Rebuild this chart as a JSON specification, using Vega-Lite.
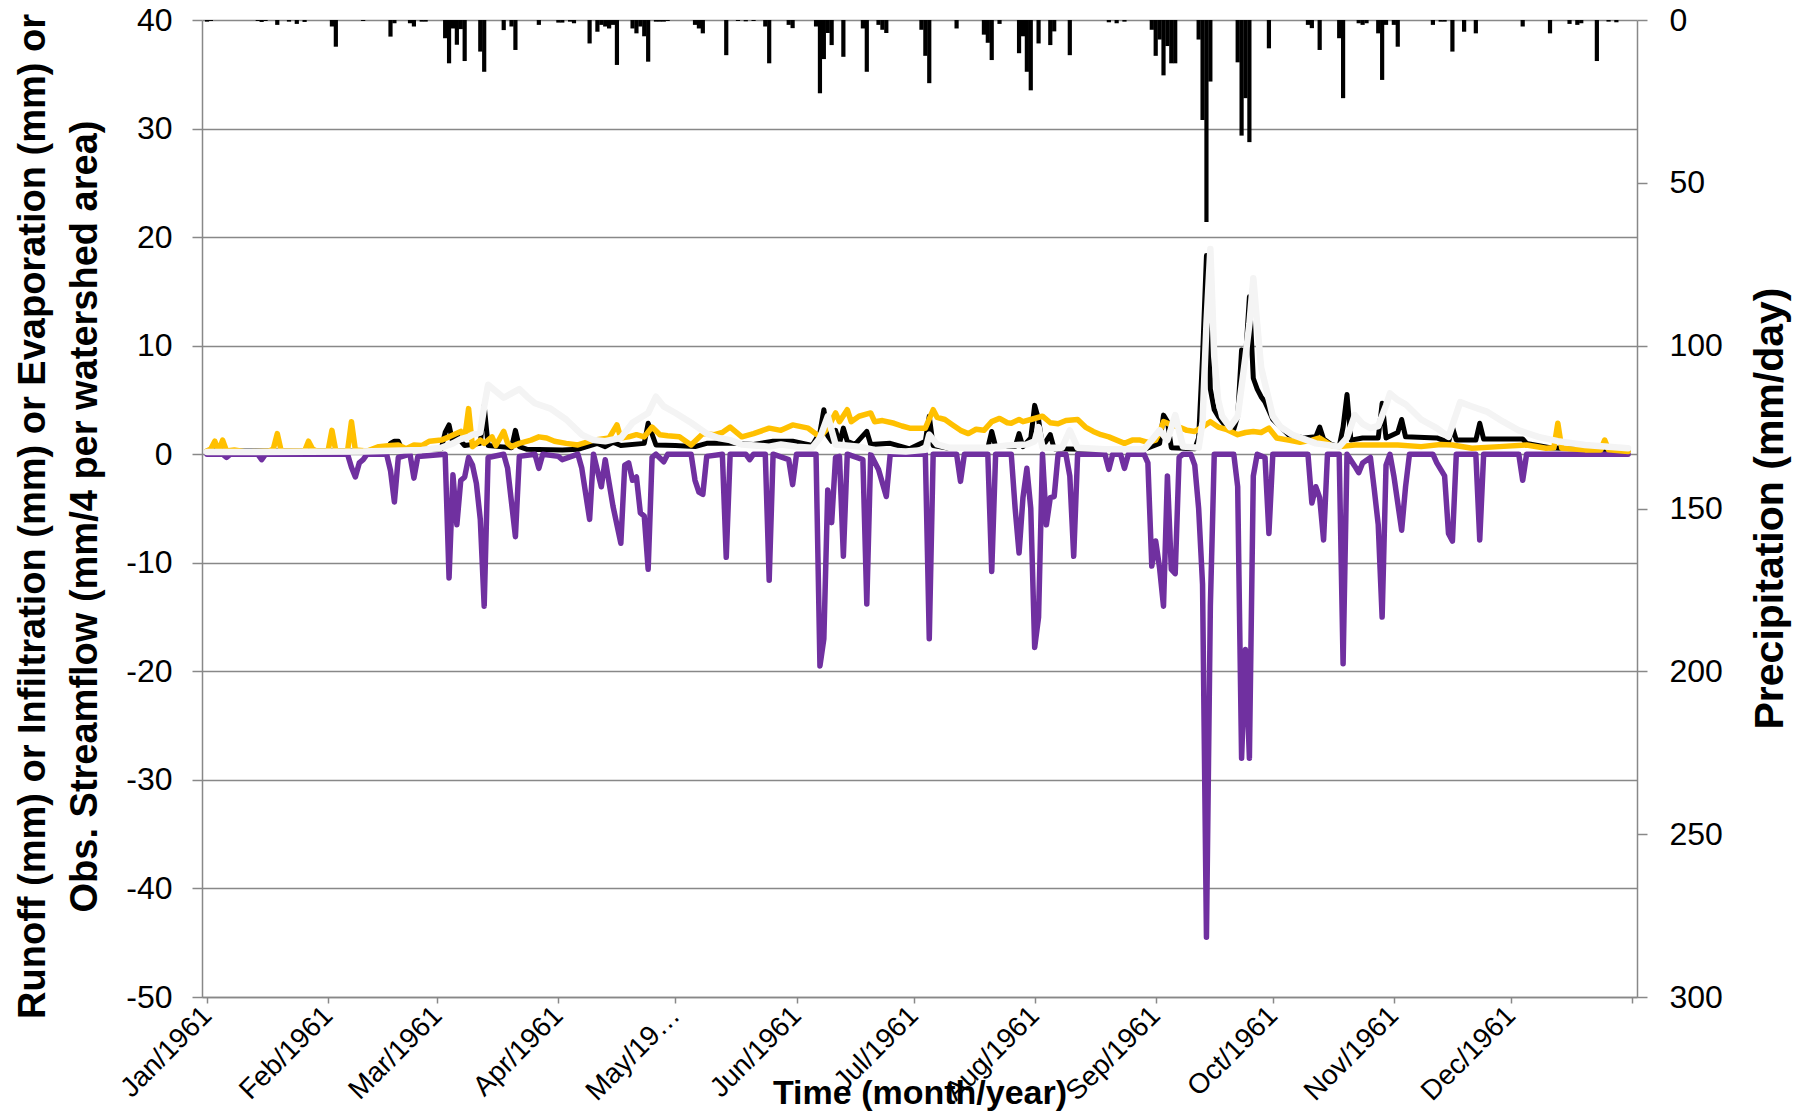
{
"$schema": "https://vega.github.io/schema/vega-lite/v6.json",
"width": 1435, "height": 977,
"autosize": {"type": "none"},
"padding": {"left": 202, "top": 20, "right": 171, "bottom": 116},
"background": "white",
"config": {"view": {"stroke": null}, "axis": {"labelFont": "Liberation Sans", "titleFont": "Liberation Sans", "labelColor": "black", "titleColor": "black"}},
"datasets": {
"precip": [
{"date":"1961/01/01","mm":0.5},{"date":"1961/01/02","mm":0.3},{"date":"1961/01/14","mm":0.3},{"date":"1961/01/15","mm":0.6},{"date":"1961/01/16","mm":0.3},{"date":"1961/01/19","mm":1.5},{"date":"1961/01/22","mm":0.5},{"date":"1961/01/24","mm":1.2},{"date":"1961/01/26","mm":0.6},
{"date":"1961/02/02","mm":2},{"date":"1961/02/03","mm":8.2},{"date":"1961/02/10","mm":0.3},{"date":"1961/02/17","mm":5.1},{"date":"1961/02/18","mm":1},{"date":"1961/02/22","mm":1.0},{"date":"1961/02/23","mm":2.0},{"date":"1961/02/25","mm":0.5},{"date":"1961/02/26","mm":0.5},
{"date":"1961/03/03","mm":5.6},{"date":"1961/03/04","mm":13.3},{"date":"1961/03/05","mm":2.6},{"date":"1961/03/06","mm":7.6},{"date":"1961/03/07","mm":2.8},{"date":"1961/03/08","mm":12.6},{"date":"1961/03/12","mm":9.7},{"date":"1961/03/13","mm":15.9},{"date":"1961/03/18","mm":3.1},{"date":"1961/03/20","mm":2},{"date":"1961/03/21","mm":9.2},{"date":"1961/03/27","mm":1.5},
{"date":"1961/04/01","mm":0.8},{"date":"1961/04/02","mm":0.8},{"date":"1961/04/04","mm":0.5},{"date":"1961/04/05","mm":1.0},{"date":"1961/04/09","mm":7.2},{"date":"1961/04/11","mm":3.6},{"date":"1961/04/12","mm":1.5},{"date":"1961/04/13","mm":2},{"date":"1961/04/14","mm":2.6},{"date":"1961/04/15","mm":1.5},{"date":"1961/04/16","mm":13.8},{"date":"1961/04/20","mm":2.6},{"date":"1961/04/21","mm":4.1},{"date":"1961/04/22","mm":2},{"date":"1961/04/23","mm":5},{"date":"1961/04/24","mm":12.8},{"date":"1961/04/26","mm":0.5},{"date":"1961/04/27","mm":0.5},{"date":"1961/04/28","mm":0.5},{"date":"1961/04/29","mm":0.3},
{"date":"1961/05/06","mm":1.5},{"date":"1961/05/07","mm":2.6},{"date":"1961/05/08","mm":4.1},{"date":"1961/05/14","mm":10.8},{"date":"1961/05/17","mm":0.3},{"date":"1961/05/19","mm":0.4},{"date":"1961/05/21","mm":0.3},{"date":"1961/05/24","mm":2},{"date":"1961/05/25","mm":13.3},{"date":"1961/05/30","mm":1.5},{"date":"1961/05/31","mm":2.5},
{"date":"1961/06/06","mm":2},{"date":"1961/06/07","mm":22.5},{"date":"1961/06/08","mm":12},{"date":"1961/06/09","mm":4},{"date":"1961/06/10","mm":7.7},{"date":"1961/06/13","mm":11.3},{"date":"1961/06/18","mm":2.6},{"date":"1961/06/19","mm":15.9},{"date":"1961/06/22","mm":1.5},{"date":"1961/06/23","mm":3},{"date":"1961/06/24","mm":4},
{"date":"1961/07/03","mm":3},{"date":"1961/07/04","mm":11},{"date":"1961/07/05","mm":19.4},{"date":"1961/07/12","mm":2.6},{"date":"1961/07/19","mm":4.5},{"date":"1961/07/20","mm":7},{"date":"1961/07/21","mm":12.3},{"date":"1961/07/23","mm":1.2},{"date":"1961/07/28","mm":10.2},{"date":"1961/07/29","mm":5},{"date":"1961/07/30","mm":15.9},{"date":"1961/07/31","mm":21.6},
{"date":"1961/08/02","mm":7.2},{"date":"1961/08/05","mm":7.7},{"date":"1961/08/06","mm":3.5},{"date":"1961/08/10","mm":10.8},{"date":"1961/08/20","mm":0.7},{"date":"1961/08/22","mm":1.0},{"date":"1961/08/24","mm":0.5},{"date":"1961/08/31","mm":3},
{"date":"1961/09/01","mm":11},{"date":"1961/09/02","mm":6},{"date":"1961/09/03","mm":17},{"date":"1961/09/04","mm":8},{"date":"1961/09/05","mm":13.3},{"date":"1961/09/06","mm":13.3},{"date":"1961/09/12","mm":6},{"date":"1961/09/13","mm":30.7},{"date":"1961/09/14","mm":62},{"date":"1961/09/15","mm":18.9},{"date":"1961/09/22","mm":13},{"date":"1961/09/23","mm":35.5},{"date":"1961/09/24","mm":24},{"date":"1961/09/25","mm":37.5},{"date":"1961/09/30","mm":8.7},
{"date":"1961/10/10","mm":1.5},{"date":"1961/10/11","mm":2.5},{"date":"1961/10/13","mm":9.2},{"date":"1961/10/18","mm":5.6},{"date":"1961/10/19","mm":24},{"date":"1961/10/23","mm":1.0},{"date":"1961/10/24","mm":1.5},{"date":"1961/10/25","mm":1.0},{"date":"1961/10/28","mm":4.1},{"date":"1961/10/29","mm":18.4},{"date":"1961/10/30","mm":1.5},
{"date":"1961/11/01","mm":1.5},{"date":"1961/11/02","mm":8.2},{"date":"1961/11/11","mm":1.5},{"date":"1961/11/13","mm":0.5},{"date":"1961/11/14","mm":0.5},{"date":"1961/11/16","mm":9.7},{"date":"1961/11/19","mm":3.6},{"date":"1961/11/22","mm":4.1},
{"date":"1961/12/04","mm":2.0},{"date":"1961/12/11","mm":4.1},{"date":"1961/12/16","mm":1.2},{"date":"1961/12/18","mm":1.5},{"date":"1961/12/19","mm":1.0},{"date":"1961/12/23","mm":12.6},{"date":"1961/12/26","mm":0.5},{"date":"1961/12/28","mm":0.7}
],
"runoff": [
{"date":"1961/01/01","mm":0.3},{"date":"1961/02/06","mm":0.3},{"date":"1961/02/16","mm":0.3},{"date":"1961/02/17","mm":1.0},{"date":"1961/02/18","mm":1.2},{"date":"1961/02/19","mm":1.2},{"date":"1961/02/20","mm":0.4},
{"date":"1961/03/02","mm":0.5},{"date":"1961/03/03","mm":2.0},{"date":"1961/03/04","mm":2.7},{"date":"1961/03/05","mm":1.0},{"date":"1961/03/06","mm":1.9},{"date":"1961/03/07","mm":1.2},{"date":"1961/03/08","mm":0.8},{"date":"1961/03/12","mm":1.0},{"date":"1961/03/13","mm":4.5},{"date":"1961/03/14","mm":0.8},{"date":"1961/03/17","mm":0.7},{"date":"1961/03/20","mm":0.6},{"date":"1961/03/21","mm":2.2},{"date":"1961/03/22","mm":0.7},{"date":"1961/03/24","mm":0.45},
{"date":"1961/04/02","mm":0.4},{"date":"1961/04/06","mm":0.45},{"date":"1961/04/11","mm":1.0},{"date":"1961/04/13","mm":0.7},{"date":"1961/04/15","mm":1.1},{"date":"1961/04/17","mm":0.8},{"date":"1961/04/23","mm":1.0},{"date":"1961/04/24","mm":2.85},{"date":"1961/04/26","mm":0.85},
{"date":"1961/05/01","mm":0.8},{"date":"1961/05/06","mm":0.7},{"date":"1961/05/09","mm":1.0},{"date":"1961/05/16","mm":1.0},{"date":"1961/05/21","mm":0.9},{"date":"1961/05/26","mm":1.2},{"date":"1961/05/31","mm":1.2},
{"date":"1961/06/05","mm":0.8},{"date":"1961/06/07","mm":2.0},{"date":"1961/06/08","mm":4.1},{"date":"1961/06/09","mm":1.7},{"date":"1961/06/10","mm":1.2},{"date":"1961/06/11","mm":2.2},{"date":"1961/06/12","mm":1.0},{"date":"1961/06/13","mm":2.4},{"date":"1961/06/14","mm":1.2},{"date":"1961/06/16","mm":0.9},{"date":"1961/06/19","mm":2.1},{"date":"1961/06/20","mm":0.9},{"date":"1961/06/25","mm":1.0},{"date":"1961/06/30","mm":0.5},
{"date":"1961/07/04","mm":1.2},{"date":"1961/07/05","mm":3.5},{"date":"1961/07/06","mm":0.8},{"date":"1961/07/10","mm":0.55},{"date":"1961/07/20","mm":0.6},{"date":"1961/07/21","mm":2.1},{"date":"1961/07/22","mm":0.7},{"date":"1961/07/27","mm":0.7},{"date":"1961/07/28","mm":1.9},{"date":"1961/07/29","mm":0.7},{"date":"1961/07/31","mm":1.5},
{"date":"1961/08/01","mm":4.5},{"date":"1961/08/02","mm":3.2},{"date":"1961/08/03","mm":0.7},{"date":"1961/08/05","mm":1.8},{"date":"1961/08/06","mm":0.5},{"date":"1961/08/14","mm":0.45},{"date":"1961/08/29","mm":0.45},
{"date":"1961/09/02","mm":1.0},{"date":"1961/09/03","mm":3.6},{"date":"1961/09/04","mm":3.0},{"date":"1961/09/05","mm":0.6},{"date":"1961/09/11","mm":0.5},{"date":"1961/09/12","mm":1.5},{"date":"1961/09/13","mm":9},{"date":"1961/09/14","mm":18.3},{"date":"1961/09/15","mm":6},{"date":"1961/09/16","mm":4.1},{"date":"1961/09/17","mm":3.5},{"date":"1961/09/18","mm":3.0},{"date":"1961/09/19","mm":2.6},{"date":"1961/09/21","mm":2.3},{"date":"1961/09/22","mm":3.5},{"date":"1961/09/23","mm":9.6},{"date":"1961/09/24","mm":8.8},{"date":"1961/09/25","mm":14.5},{"date":"1961/09/26","mm":7.0},{"date":"1961/09/27","mm":6.0},{"date":"1961/09/28","mm":5.3},{"date":"1961/09/29","mm":4.8},{"date":"1961/09/30","mm":4.0},
{"date":"1961/10/01","mm":3.2},{"date":"1961/10/03","mm":2.5},{"date":"1961/10/05","mm":1.8},{"date":"1961/10/09","mm":1.5},{"date":"1961/10/12","mm":1.6},{"date":"1961/10/13","mm":2.5},{"date":"1961/10/14","mm":1.4},{"date":"1961/10/16","mm":0.9},{"date":"1961/10/18","mm":0.7},{"date":"1961/10/19","mm":2.5},{"date":"1961/10/20","mm":5.5},{"date":"1961/10/21","mm":1.3},{"date":"1961/10/24","mm":1.5},{"date":"1961/10/28","mm":1.5},{"date":"1961/10/29","mm":4.7},{"date":"1961/10/30","mm":1.5},
{"date":"1961/11/02","mm":2.0},{"date":"1961/11/03","mm":3.2},{"date":"1961/11/04","mm":1.6},{"date":"1961/11/12","mm":1.5},{"date":"1961/11/15","mm":1.1},{"date":"1961/11/16","mm":2.5},{"date":"1961/11/17","mm":1.3},{"date":"1961/11/22","mm":1.3},{"date":"1961/11/23","mm":2.85},{"date":"1961/11/24","mm":1.4},
{"date":"1961/12/04","mm":1.4},{"date":"1961/12/05","mm":1.0},{"date":"1961/12/11","mm":0.6},{"date":"1961/12/17","mm":0.5},{"date":"1961/12/31","mm":0.3}
],
"infiltration": [
{"date":"1961/01/01","mm":0},{"date":"1961/01/05","mm":0},{"date":"1961/01/06","mm":-0.3},{"date":"1961/01/07","mm":0},{"date":"1961/01/14","mm":0},{"date":"1961/01/15","mm":-0.5},{"date":"1961/01/16","mm":0},
{"date":"1961/02/06","mm":0},{"date":"1961/02/07","mm":-1.2},{"date":"1961/02/08","mm":-2.1},{"date":"1961/02/09","mm":-0.8},{"date":"1961/02/10","mm":-0.5},{"date":"1961/02/11","mm":0},{"date":"1961/02/16","mm":0},{"date":"1961/02/17","mm":-1.5},{"date":"1961/02/18","mm":-4.4},{"date":"1961/02/19","mm":-0.3},{"date":"1961/02/22","mm":0},{"date":"1961/02/23","mm":-2.2},{"date":"1961/02/24","mm":-0.2},
{"date":"1961/03/03","mm":0},{"date":"1961/03/04","mm":-11.4},{"date":"1961/03/05","mm":-1.9},{"date":"1961/03/06","mm":-6.5},{"date":"1961/03/07","mm":-2.4},{"date":"1961/03/08","mm":-2.1},{"date":"1961/03/09","mm":-0.3},{"date":"1961/03/10","mm":-1},{"date":"1961/03/11","mm":-2.7},{"date":"1961/03/12","mm":-6},{"date":"1961/03/13","mm":-14},{"date":"1961/03/14","mm":-0.3},{"date":"1961/03/18","mm":0},{"date":"1961/03/19","mm":-1.3},{"date":"1961/03/21","mm":-7.6},{"date":"1961/03/22","mm":-0.2},{"date":"1961/03/26","mm":0},{"date":"1961/03/27","mm":-1.3},{"date":"1961/03/28","mm":0},
{"date":"1961/04/01","mm":-0.2},{"date":"1961/04/02","mm":-0.5},{"date":"1961/04/06","mm":0},{"date":"1961/04/07","mm":-1.3},{"date":"1961/04/09","mm":-6},{"date":"1961/04/10","mm":0},{"date":"1961/04/12","mm":-3},{"date":"1961/04/13","mm":-0.5},{"date":"1961/04/15","mm":-4.8},{"date":"1961/04/17","mm":-8.2},{"date":"1961/04/18","mm":-1},{"date":"1961/04/19","mm":-0.8},{"date":"1961/04/20","mm":-2.4},{"date":"1961/04/21","mm":-2.1},{"date":"1961/04/22","mm":-5.4},{"date":"1961/04/23","mm":-5.7},{"date":"1961/04/24","mm":-10.6},{"date":"1961/04/25","mm":-0.3},{"date":"1961/04/26","mm":0},{"date":"1961/04/28","mm":-0.7},{"date":"1961/04/29","mm":0},
{"date":"1961/05/05","mm":0},{"date":"1961/05/06","mm":-2.4},{"date":"1961/05/07","mm":-3.5},{"date":"1961/05/08","mm":-3.7},{"date":"1961/05/09","mm":-0.2},{"date":"1961/05/13","mm":0},{"date":"1961/05/14","mm":-9.5},{"date":"1961/05/15","mm":0},{"date":"1961/05/19","mm":0},{"date":"1961/05/20","mm":-0.5},{"date":"1961/05/21","mm":0},{"date":"1961/05/24","mm":0},{"date":"1961/05/25","mm":-11.6},{"date":"1961/05/26","mm":0},{"date":"1961/05/30","mm":-0.5},{"date":"1961/05/31","mm":-2.8},
{"date":"1961/06/01","mm":0},{"date":"1961/06/06","mm":0},{"date":"1961/06/07","mm":-19.5},{"date":"1961/06/08","mm":-17},{"date":"1961/06/09","mm":-3.3},{"date":"1961/06/10","mm":-6.3},{"date":"1961/06/11","mm":-0.3},{"date":"1961/06/12","mm":-0.2},{"date":"1961/06/13","mm":-9.4},{"date":"1961/06/14","mm":0},{"date":"1961/06/18","mm":-0.5},{"date":"1961/06/19","mm":-13.8},{"date":"1961/06/20","mm":0},{"date":"1961/06/22","mm":-1.4},{"date":"1961/06/24","mm":-3.9},{"date":"1961/06/25","mm":0},
{"date":"1961/07/04","mm":0},{"date":"1961/07/05","mm":-17},{"date":"1961/07/06","mm":0},{"date":"1961/07/12","mm":0},{"date":"1961/07/13","mm":-2.5},{"date":"1961/07/14","mm":0},{"date":"1961/07/20","mm":0},{"date":"1961/07/21","mm":-10.8},{"date":"1961/07/22","mm":0},{"date":"1961/07/26","mm":0},{"date":"1961/07/27","mm":-5},{"date":"1961/07/28","mm":-9.1},{"date":"1961/07/29","mm":-4},{"date":"1961/07/30","mm":-1.3},{"date":"1961/07/31","mm":-5},
{"date":"1961/08/01","mm":-17.8},{"date":"1961/08/02","mm":-15},{"date":"1961/08/03","mm":0},{"date":"1961/08/04","mm":-6.5},{"date":"1961/08/05","mm":-4},{"date":"1961/08/06","mm":-3.9},{"date":"1961/08/07","mm":0},{"date":"1961/08/09","mm":0},{"date":"1961/08/10","mm":-2},{"date":"1961/08/11","mm":-9.4},{"date":"1961/08/12","mm":0},{"date":"1961/08/19","mm":0},{"date":"1961/08/20","mm":-1.4},{"date":"1961/08/21","mm":0},{"date":"1961/08/23","mm":0},{"date":"1961/08/24","mm":-1.3},{"date":"1961/08/25","mm":0},{"date":"1961/08/29","mm":0},{"date":"1961/08/30","mm":-0.8},{"date":"1961/08/31","mm":-10.3},
{"date":"1961/09/01","mm":-8},{"date":"1961/09/02","mm":-10.5},{"date":"1961/09/03","mm":-14},{"date":"1961/09/04","mm":-2},{"date":"1961/09/05","mm":-10.6},{"date":"1961/09/06","mm":-11},{"date":"1961/09/07","mm":-0.3},{"date":"1961/09/08","mm":0},{"date":"1961/09/10","mm":0},{"date":"1961/09/11","mm":-1},{"date":"1961/09/12","mm":-5},{"date":"1961/09/13","mm":-12},{"date":"1961/09/14","mm":-44.5},{"date":"1961/09/15","mm":-14},{"date":"1961/09/16","mm":0},{"date":"1961/09/21","mm":0},{"date":"1961/09/22","mm":-3},{"date":"1961/09/23","mm":-28},{"date":"1961/09/24","mm":-18},{"date":"1961/09/25","mm":-28},{"date":"1961/09/26","mm":-2},{"date":"1961/09/27","mm":0},{"date":"1961/09/29","mm":-0.3},{"date":"1961/09/30","mm":-7.3},
{"date":"1961/10/01","mm":0},{"date":"1961/10/10","mm":0},{"date":"1961/10/11","mm":-4.5},{"date":"1961/10/12","mm":-3},{"date":"1961/10/13","mm":-4},{"date":"1961/10/14","mm":-7.9},{"date":"1961/10/15","mm":0},{"date":"1961/10/18","mm":0},{"date":"1961/10/19","mm":-19.3},{"date":"1961/10/20","mm":0},{"date":"1961/10/22","mm":-1.1},{"date":"1961/10/23","mm":-1.7},{"date":"1961/10/24","mm":-0.8},{"date":"1961/10/26","mm":-0.3},{"date":"1961/10/27","mm":-3.3},{"date":"1961/10/28","mm":-6.5},{"date":"1961/10/29","mm":-15},{"date":"1961/10/30","mm":-1},{"date":"1961/10/31","mm":0},
{"date":"1961/11/01","mm":-2},{"date":"1961/11/03","mm":-7},{"date":"1961/11/04","mm":-3},{"date":"1961/11/05","mm":0},{"date":"1961/11/11","mm":0},{"date":"1961/11/12","mm":-0.8},{"date":"1961/11/14","mm":-2},{"date":"1961/11/15","mm":-7.3},{"date":"1961/11/16","mm":-8},{"date":"1961/11/17","mm":0},{"date":"1961/11/22","mm":0},{"date":"1961/11/23","mm":-7.9},{"date":"1961/11/24","mm":0},
{"date":"1961/12/03","mm":0},{"date":"1961/12/04","mm":-2.4},{"date":"1961/12/05","mm":0},{"date":"1961/12/31","mm":0}
],
"evaporation": [
{"date":"1961/01/01","mm":0.3},{"date":"1961/01/02","mm":0.5},{"date":"1961/01/03","mm":1.2},{"date":"1961/01/04","mm":0.3},{"date":"1961/01/05","mm":1.3},{"date":"1961/01/06","mm":0.3},{"date":"1961/01/08","mm":0.4},{"date":"1961/01/11","mm":0.2},{"date":"1961/01/17","mm":0.3},{"date":"1961/01/18","mm":0.5},{"date":"1961/01/19","mm":1.9},{"date":"1961/01/20","mm":0.3},{"date":"1961/01/26","mm":0.3},{"date":"1961/01/27","mm":1.2},{"date":"1961/01/28","mm":0.5},{"date":"1961/01/29","mm":0.3},
{"date":"1961/02/01","mm":0.3},{"date":"1961/02/02","mm":2.2},{"date":"1961/02/03","mm":0.3},{"date":"1961/02/06","mm":0.3},{"date":"1961/02/07","mm":3.0},{"date":"1961/02/08","mm":0.4},{"date":"1961/02/11","mm":0.3},{"date":"1961/02/14","mm":0.7},{"date":"1961/02/17","mm":0.8},{"date":"1961/02/19","mm":0.85},{"date":"1961/02/21","mm":0.5},{"date":"1961/02/23","mm":0.85},{"date":"1961/02/25","mm":0.8},{"date":"1961/02/27","mm":1.2},
{"date":"1961/03/02","mm":1.3},{"date":"1961/03/04","mm":1.6},{"date":"1961/03/07","mm":2.1},{"date":"1961/03/08","mm":1.5},{"date":"1961/03/09","mm":4.2},{"date":"1961/03/10","mm":0.7},{"date":"1961/03/12","mm":1.3},{"date":"1961/03/13","mm":1.0},{"date":"1961/03/15","mm":1.6},{"date":"1961/03/16","mm":0.8},{"date":"1961/03/18","mm":2.1},{"date":"1961/03/19","mm":1.0},{"date":"1961/03/20","mm":0.7},{"date":"1961/03/22","mm":1.0},{"date":"1961/03/25","mm":1.3},{"date":"1961/03/27","mm":1.6},{"date":"1961/03/29","mm":1.5},{"date":"1961/03/31","mm":1.2},
{"date":"1961/04/03","mm":1.0},{"date":"1961/04/06","mm":0.85},{"date":"1961/04/10","mm":1.3},{"date":"1961/04/14","mm":1.5},{"date":"1961/04/16","mm":2.7},{"date":"1961/04/17","mm":1.5},{"date":"1961/04/19","mm":1.6},{"date":"1961/04/21","mm":1.8},{"date":"1961/04/23","mm":1.6},{"date":"1961/04/25","mm":2.5},{"date":"1961/04/27","mm":1.8},{"date":"1961/04/29","mm":1.7},
{"date":"1961/05/02","mm":1.6},{"date":"1961/05/05","mm":0.85},{"date":"1961/05/08","mm":1.9},{"date":"1961/05/11","mm":1.8},{"date":"1961/05/13","mm":2.0},{"date":"1961/05/15","mm":2.5},{"date":"1961/05/18","mm":1.6},{"date":"1961/05/21","mm":1.9},{"date":"1961/05/25","mm":2.4},{"date":"1961/05/28","mm":2.2},{"date":"1961/05/31","mm":2.7},
{"date":"1961/06/04","mm":2.4},{"date":"1961/06/07","mm":1.6},{"date":"1961/06/09","mm":2.4},{"date":"1961/06/11","mm":3.8},{"date":"1961/06/12","mm":3.0},{"date":"1961/06/14","mm":4.1},{"date":"1961/06/15","mm":3.0},{"date":"1961/06/17","mm":3.5},{"date":"1961/06/20","mm":3.8},{"date":"1961/06/21","mm":3.0},{"date":"1961/06/23","mm":3.1},{"date":"1961/06/26","mm":2.85},{"date":"1961/06/28","mm":2.6},{"date":"1961/06/30","mm":2.4},
{"date":"1961/07/04","mm":2.4},{"date":"1961/07/06","mm":4.1},{"date":"1961/07/07","mm":3.4},{"date":"1961/07/09","mm":3.2},{"date":"1961/07/11","mm":2.7},{"date":"1961/07/13","mm":2.2},{"date":"1961/07/15","mm":1.9},{"date":"1961/07/17","mm":2.3},{"date":"1961/07/19","mm":2.2},{"date":"1961/07/21","mm":3.0},{"date":"1961/07/23","mm":3.3},{"date":"1961/07/25","mm":2.9},{"date":"1961/07/26","mm":2.85},{"date":"1961/07/28","mm":3.2},{"date":"1961/07/29","mm":3.0},{"date":"1961/07/31","mm":3.2},
{"date":"1961/08/03","mm":3.5},{"date":"1961/08/05","mm":2.9},{"date":"1961/08/07","mm":2.8},{"date":"1961/08/09","mm":3.1},{"date":"1961/08/12","mm":3.2},{"date":"1961/08/14","mm":2.5},{"date":"1961/08/16","mm":2.1},{"date":"1961/08/18","mm":1.8},{"date":"1961/08/20","mm":1.6},{"date":"1961/08/22","mm":1.3},{"date":"1961/08/24","mm":1.0},{"date":"1961/08/26","mm":1.3},{"date":"1961/08/28","mm":1.3},{"date":"1961/08/30","mm":1.1},
{"date":"1961/09/01","mm":1.3},{"date":"1961/09/02","mm":2.0},{"date":"1961/09/03","mm":3.0},{"date":"1961/09/05","mm":2.7},{"date":"1961/09/07","mm":2.5},{"date":"1961/09/09","mm":2.2},{"date":"1961/09/11","mm":2.1},{"date":"1961/09/13","mm":2.5},{"date":"1961/09/15","mm":3.0},{"date":"1961/09/17","mm":2.5},{"date":"1961/09/19","mm":2.3},{"date":"1961/09/22","mm":1.8},{"date":"1961/09/24","mm":2.0},{"date":"1961/09/26","mm":2.1},{"date":"1961/09/28","mm":2.0},{"date":"1961/09/30","mm":2.4},
{"date":"1961/10/02","mm":1.5},{"date":"1961/10/05","mm":1.3},{"date":"1961/10/08","mm":1.1},{"date":"1961/10/11","mm":1.3},{"date":"1961/10/13","mm":1.5},{"date":"1961/10/16","mm":0.8},{"date":"1961/10/18","mm":0.7},{"date":"1961/10/22","mm":0.85},{"date":"1961/10/27","mm":0.85},
{"date":"1961/11/02","mm":0.85},{"date":"1961/11/08","mm":0.7},{"date":"1961/11/13","mm":0.9},{"date":"1961/11/16","mm":0.85},{"date":"1961/11/21","mm":0.55},{"date":"1961/11/28","mm":0.7},
{"date":"1961/12/05","mm":0.85},{"date":"1961/12/10","mm":0.55},{"date":"1961/12/12","mm":0.6},{"date":"1961/12/13","mm":2.85},{"date":"1961/12/14","mm":0.55},{"date":"1961/12/20","mm":0.4},{"date":"1961/12/24","mm":0.4},{"date":"1961/12/25","mm":1.3},{"date":"1961/12/26","mm":0.4},{"date":"1961/12/31","mm":0.25}
],
"streamflow": [
{"date":"1961/01/01","mm":0.2},{"date":"1961/02/10","mm":0.25},{"date":"1961/02/25","mm":0.4},
{"date":"1961/03/02","mm":0.6},{"date":"1961/03/05","mm":1.0},{"date":"1961/03/07","mm":1.4},{"date":"1961/03/09","mm":1.6},{"date":"1961/03/10","mm":1.8},{"date":"1961/03/12","mm":2.0},{"date":"1961/03/13","mm":4.4},{"date":"1961/03/14","mm":6.4},{"date":"1961/03/16","mm":5.8},{"date":"1961/03/18","mm":5.2},{"date":"1961/03/20","mm":5.6},{"date":"1961/03/22","mm":6.0},{"date":"1961/03/24","mm":5.3},{"date":"1961/03/26","mm":4.7},{"date":"1961/03/30","mm":4.2},
{"date":"1961/04/03","mm":3.2},{"date":"1961/04/07","mm":1.8},{"date":"1961/04/10","mm":1.3},{"date":"1961/04/13","mm":1.2},{"date":"1961/04/17","mm":1.5},{"date":"1961/04/20","mm":2.9},{"date":"1961/04/24","mm":3.8},{"date":"1961/04/26","mm":5.3},{"date":"1961/04/28","mm":4.4},
{"date":"1961/05/01","mm":3.8},{"date":"1961/05/05","mm":2.9},{"date":"1961/05/09","mm":1.9},{"date":"1961/05/12","mm":1.5},{"date":"1961/05/15","mm":1.3},{"date":"1961/05/18","mm":0.9},{"date":"1961/05/25","mm":0.7},{"date":"1961/05/28","mm":0.9},
{"date":"1961/06/01","mm":0.7},{"date":"1961/06/05","mm":0.6},{"date":"1961/06/07","mm":1.5},{"date":"1961/06/09","mm":3.5},{"date":"1961/06/11","mm":0.9},{"date":"1961/06/17","mm":0.7},{"date":"1961/06/21","mm":0.4},{"date":"1961/06/29","mm":0.25},
{"date":"1961/07/04","mm":0.4},{"date":"1961/07/05","mm":1.8},{"date":"1961/07/07","mm":0.9},{"date":"1961/07/10","mm":0.6},{"date":"1961/07/20","mm":0.6},{"date":"1961/07/25","mm":0.8},{"date":"1961/07/30","mm":0.9},
{"date":"1961/08/01","mm":1.2},{"date":"1961/08/02","mm":2.5},{"date":"1961/08/03","mm":0.6},{"date":"1961/08/08","mm":0.6},{"date":"1961/08/10","mm":2.2},{"date":"1961/08/12","mm":0.6},{"date":"1961/08/19","mm":0.45},{"date":"1961/08/29","mm":0.45},{"date":"1961/08/31","mm":1.3},
{"date":"1961/09/02","mm":2.2},{"date":"1961/09/04","mm":1.3},{"date":"1961/09/06","mm":3.6},{"date":"1961/09/08","mm":0.7},{"date":"1961/09/12","mm":0.6},{"date":"1961/09/13","mm":3},{"date":"1961/09/14","mm":12},{"date":"1961/09/15","mm":18.9},{"date":"1961/09/16","mm":9},{"date":"1961/09/17","mm":5.0},{"date":"1961/09/18","mm":3.5},{"date":"1961/09/20","mm":2.5},{"date":"1961/09/22","mm":3.5},{"date":"1961/09/24","mm":9},{"date":"1961/09/25","mm":12},{"date":"1961/09/26","mm":16.2},{"date":"1961/09/27","mm":12},{"date":"1961/09/28","mm":8},{"date":"1961/09/29","mm":6.5},
{"date":"1961/10/01","mm":3.5},{"date":"1961/10/03","mm":2.5},{"date":"1961/10/06","mm":1.8},{"date":"1961/10/12","mm":1.0},{"date":"1961/10/18","mm":0.7},{"date":"1961/10/20","mm":1.5},{"date":"1961/10/22","mm":3.6},{"date":"1961/10/24","mm":2.8},{"date":"1961/10/26","mm":2.4},{"date":"1961/10/28","mm":2.6},{"date":"1961/10/30","mm":4.5},{"date":"1961/10/31","mm":5.6},
{"date":"1961/11/02","mm":5.0},{"date":"1961/11/04","mm":4.6},{"date":"1961/11/08","mm":3.2},{"date":"1961/11/12","mm":2.4},{"date":"1961/11/15","mm":1.6},{"date":"1961/11/18","mm":4.8},{"date":"1961/11/21","mm":4.4},{"date":"1961/11/25","mm":3.9},{"date":"1961/11/29","mm":3.0},
{"date":"1961/12/03","mm":2.2},{"date":"1961/12/08","mm":1.6},{"date":"1961/12/13","mm":1.2},{"date":"1961/12/20","mm":0.85},{"date":"1961/12/31","mm":0.55}
]
},
"layer": [
{
"data": {"name": "precip"},
"mark": {"type": "bar", "color": "black", "width": 4.2},
"encoding": {
"x": {"field": "date", "type": "temporal",
"scale": {"domain": [{"year": 1961, "month": 1, "date": 1}, {"year": 1962, "month": 1, "date": 1}], "nice": false},
"axis": {"title": "Time (month/year)", "tickCount": {"interval": "month", "step": 1}, "grid": false,
"labelExpr": "year(datum.value) > 1961 ? '' : (month(datum.value) == 4 ? 'May/19…' : timeFormat(datum.value, '%b/%Y'))",
"labelAngle": -45, "labelAlign": "right", "labelBaseline": "middle", "labelFontSize": 28, "labelPadding": 8,
"labelOverlap": false, "labelBound": false, "labelFlush": false,
"tickSize": 6, "tickColor": "#888888", "tickWidth": 1.5, "domainColor": "#888888", "domainWidth": 1.5,
"titleFontSize": 34, "titleFontWeight": "bold", "titleY": 96, "titleBaseline": "middle"}},
"y": {"field": "mm", "type": "quantitative", "stack": null,
"scale": {"domain": [0, 300], "reverse": true, "nice": false, "zero": true},
"axis": {"orient": "right", "values": [0, 50, 100, 150, 200, 250, 300], "grid": false,
"title": "Precipitation (mm/day)", "titleFontSize": 41, "titleFontWeight": "bold", "titleAngle": 270,
"titleX": 133, "titleY": 488, "titleAlign": "center", "titleBaseline": "middle",
"labelFontSize": 32, "labelPadding": 22, "tickSize": 10, "tickColor": "#888888", "tickWidth": 1.5,
"domainColor": "#888888", "domainWidth": 1.5}}
}
},
{
"layer": [
{"data": {"name": "runoff"}, "mark": {"type": "line", "color": "#000000", "strokeWidth": 5, "strokeJoin": "round", "strokeCap": "round"},
"encoding": {
"x": {"field": "date", "type": "temporal", "scale": {"domain": [{"year": 1961, "month": 1, "date": 1}, {"year": 1962, "month": 1, "date": 1}], "nice": false}},
"y": {"field": "mm", "type": "quantitative",
"scale": {"domain": [-50, 40], "nice": false, "zero": false},
"axis": {"orient": "left", "values": [-50, -40, -30, -20, -10, 0, 10, 20, 30, 40],
"labelExpr": "'' + datum.value",
"grid": true, "gridColor": "#888888", "gridWidth": 1.5,
"domainColor": "#888888", "domainWidth": 1.5, "tickColor": "#888888", "tickWidth": 1.5, "tickSize": 10,
"labelFontSize": 32, "labelPadding": 20,
"title": ["Runoff (mm) or Infiltration (mm) or Evaporation (mm) or", "Obs. Streamflow (mm/4 per watershed area)"],
"titleFontSize": 38, "titleFontWeight": "bold", "titleAngle": 270, "titleX": -188, "titleY": 496,
"titleAlign": "center", "titleBaseline": "top", "titleLineHeight": 52}}
}},
{"data": {"name": "infiltration"}, "mark": {"type": "line", "color": "#7030A0", "strokeWidth": 5.5, "strokeJoin": "round", "strokeCap": "round"},
"encoding": {
"x": {"field": "date", "type": "temporal", "scale": {"domain": [{"year": 1961, "month": 1, "date": 1}, {"year": 1962, "month": 1, "date": 1}], "nice": false}},
"y": {"field": "mm", "type": "quantitative"}}},
{"data": {"name": "evaporation"}, "mark": {"type": "line", "color": "#FFC000", "strokeWidth": 5.5, "strokeJoin": "round", "strokeCap": "round"},
"encoding": {
"x": {"field": "date", "type": "temporal", "scale": {"domain": [{"year": 1961, "month": 1, "date": 1}, {"year": 1962, "month": 1, "date": 1}], "nice": false}},
"y": {"field": "mm", "type": "quantitative"}}},
{"data": {"name": "streamflow"}, "mark": {"type": "line", "color": "#F4F4F4", "strokeWidth": 6.5, "strokeJoin": "round", "strokeCap": "round"},
"encoding": {
"x": {"field": "date", "type": "temporal", "scale": {"domain": [{"year": 1961, "month": 1, "date": 1}, {"year": 1962, "month": 1, "date": 1}], "nice": false}},
"y": {"field": "mm", "type": "quantitative"}}}
]
}
],
"resolve": {"scale": {"y": "independent"}, "axis": {"y": "independent"}}
}
